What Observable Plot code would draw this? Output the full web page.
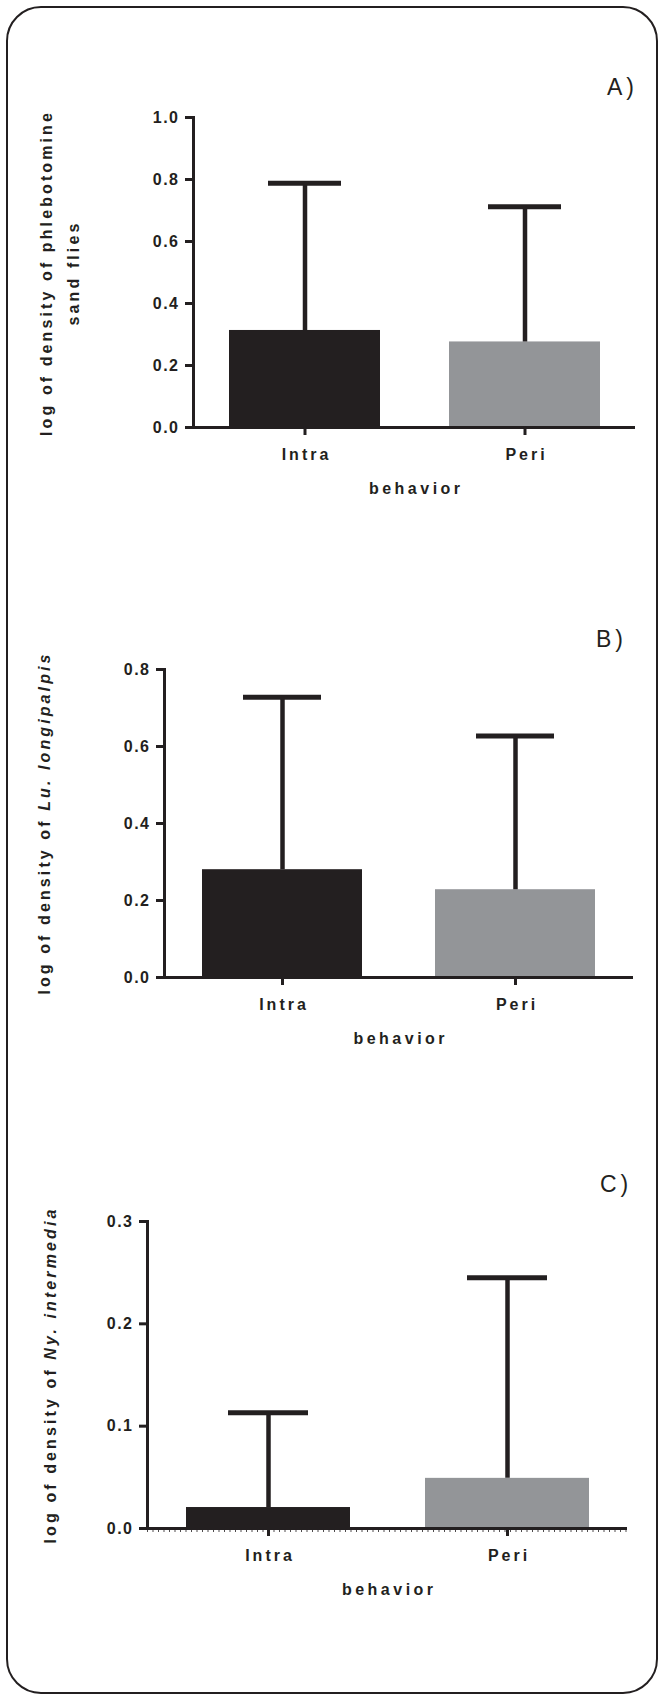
<!DOCTYPE html>
<html>
<head>
<meta charset="utf-8">
<script src="https://cdn.jsdelivr.net/npm/d3@7"></script>
<script src="https://cdn.jsdelivr.net/npm/@observablehq/plot@0.6"></script>
<style>
  html, body { margin: 0; padding: 0; background: #ffffff; }
  #page { position: relative; width: 660px; height: 1695px; overflow: hidden; background: #ffffff; }
  #page > svg.panel { position: absolute; left: 0; }
  #overlay { position: absolute; left: 0; top: 0; pointer-events: none; }
</style>
</head>
<body>
<div id="page"></div>
<script>
// ---------- data ----------
const categories = ["Intra", "Peri"];
const barColors = ["#231f20", "#939598"];

const meanA = [0.313, 0.276];
const upperA = [0.788, 0.712];
const ticksA = [0, 0.2, 0.4, 0.6, 0.8, 1.0];

const meanB = [0.280, 0.228];
const upperB = [0.728, 0.627];
const ticksB = [0, 0.2, 0.4, 0.6, 0.8];

const meanC = [0.0205, 0.049];
const upperC = [0.113, 0.245];
const ticksC = [0, 0.1, 0.2, 0.3];

const xTitle = "behavior";
const panelLetters = ["A)", "B)", "C)"];
const yTitleA = [[{t: "log of density of phlebotomine"}], [{t: "sand flies"}]];
const yTitleB = [[{t: "log of density of "}, {t: "Lu. longipalpis", i: true}]];
const yTitleC = [[{t: "log of density of "}, {t: "Ny. intermedia", i: true}]];

// ---------- layout ----------
const INK = "#231f20";
const FONT = "'Liberation Sans', Arial, Helvetica, sans-serif";
const panels = [
  {mean: meanA, upper: upperA, ticks: ticksA, top: 0, height: 520, mt: 117, mb: 93, ml: 193, mr: 25, capInset: 39, dashed: false,
   letter: panelLetters[0], lx: 607, ly: 95, title: yTitleA, tx: [52, 79], ty: 273},
  {mean: meanB, upper: upperB, ticks: ticksB, top: 540, height: 500, mt: 129, mb: 63, ml: 164, mr: 27, capInset: 41, dashed: false,
   letter: panelLetters[1], lx: 596, ly: 647, title: yTitleB, tx: [50], ty: 823},
  {mean: meanC, upper: upperC, ticks: ticksC, top: 1100, height: 560, mt: 121, mb: 132, ml: 147, mr: 33, capInset: 42, dashed: true,
   letter: panelLetters[2], lx: 600, ly: 1192, title: yTitleC, tx: [56], ty: 1375}
];

const page = document.getElementById("page");

panels.forEach(p => {
  const rows = categories.map((c, i) => ({cat: c, mean: p.mean[i], upper: p.upper[i]}));
  const ymax = p.ticks[p.ticks.length - 1];
  const marks = [
    Plot.barY(rows, {x: "cat", y: "mean", fill: "cat"}),
    Plot.ruleX(rows, {x: "cat", y1: "mean", y2: "upper", stroke: INK, strokeWidth: 4.5}),
    Plot.tickY(rows, {x: "cat", y: "upper", stroke: INK, strokeWidth: 5, insetLeft: p.capInset, insetRight: p.capInset}),
    Plot.ruleY([0], {stroke: INK, strokeWidth: 3}),
  ];
  if (p.dashed) {
    marks.push(Plot.ruleY([0], {stroke: INK, strokeWidth: 3, dy: 2, strokeDasharray: "1 4.5", strokeOpacity: 0.8}));
  }
  marks.push(
    Plot.frame({anchor: "left", stroke: INK, strokeWidth: 3}),
    Plot.axisY({ticks: p.ticks, tickFormat: d3.format(".1f"), tickSize: 8, tickPadding: 6, strokeWidth: 3, label: null}),
    Plot.axisX({tickSize: 8, tickPadding: 13, strokeWidth: 3, label: null}),
    Plot.text([xTitle], {frameAnchor: "bottom", dy: 66, lineAnchor: "bottom", fontWeight: "bold"})
  );
  const chart = Plot.plot({
    width: 660,
    height: p.height,
    marginTop: p.mt,
    marginBottom: p.mb,
    marginLeft: p.ml,
    marginRight: p.mr,
    x: {domain: categories, paddingInner: 0.315, paddingOuter: 0.16, axis: null},
    y: {domain: [0, ymax], axis: null},
    color: {domain: categories, range: barColors},
    style: {fontFamily: FONT, fontSize: "16px", fontWeight: "bold", color: INK, background: "transparent", overflow: "visible"},
    marks
  });
  chart.classList.add("panel");
  chart.style.top = p.top + "px";
  page.appendChild(chart);
  const s = d3.select(chart);
  s.selectAll('g[aria-label="y-axis tick label"]').style("letter-spacing", "1.5px");
  s.selectAll('g[aria-label="x-axis tick label"] text').style("letter-spacing", "3px").attr("dx", "1.5");
  s.selectAll('g[aria-label="text"] text').style("letter-spacing", "3.5px").attr("dx", "1.75");
});

// ---------- overlay: border, panel letters, y titles ----------
const ov = d3.select(page).append("svg")
  .attr("id", "overlay")
  .attr("width", 660).attr("height", 1695)
  .attr("viewBox", "0 0 660 1695");

ov.append("rect")
  .attr("x", 7).attr("y", 7).attr("width", 650).attr("height", 1686)
  .attr("rx", 34).attr("ry", 34)
  .attr("fill", "none").attr("stroke", INK).attr("stroke-width", 2);

panels.forEach(p => {
  ov.append("text")
    .attr("x", p.lx).attr("y", p.ly)
    .attr("font-family", FONT).attr("font-size", 23).attr("fill", INK)
    .style("letter-spacing", "4px")
    .text(p.letter);
  p.title.forEach((line, li) => {
    const t = ov.append("text")
      .attr("transform", `translate(${p.tx[li]},${p.ty}) rotate(-90)`)
      .attr("text-anchor", "middle")
      .attr("font-family", FONT).attr("font-size", 16).attr("font-weight", "bold")
      .attr("fill", INK)
      .style("letter-spacing", "3.1px");
    line.forEach(seg => {
      const ts = t.append("tspan").text(seg.t);
      if (seg.i) ts.attr("font-style", "italic");
    });
  });
});
</script>
</body>
</html>
